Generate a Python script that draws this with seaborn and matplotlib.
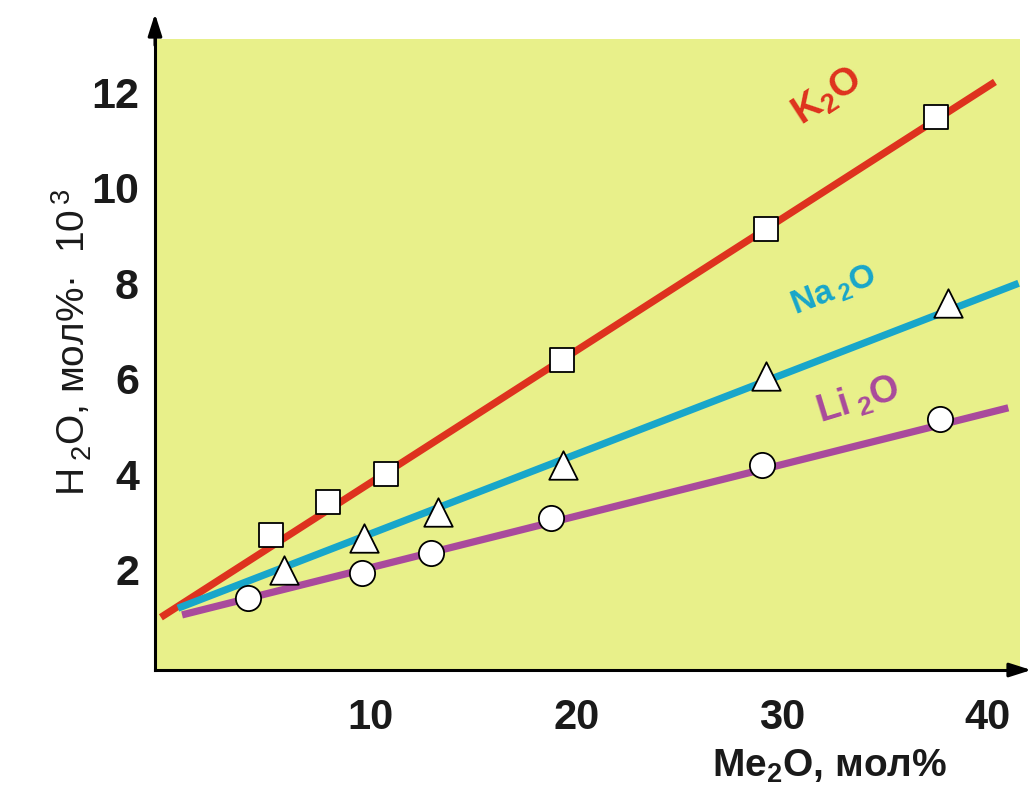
import matplotlib
matplotlib.use("Agg")
import matplotlib.pyplot as plt
import seaborn as sns
import pandas as pd

# Measured points (Me2O mol%, H2O mol% x 10^3)
k2o_x = [5.15, 7.92, 10.74, 19.3, 29.2, 37.5]
k2o_y = [2.73, 3.42, 4.0, 6.39, 9.14, 11.49]
na2o_x = [5.78, 9.67, 13.27, 19.35, 29.2, 38.06]
na2o_y = [1.99, 2.66, 3.21, 4.19, 6.06, 7.59]
li2o_x = [4.03, 9.58, 12.93, 18.77, 29.02, 37.68]
li2o_y = [1.40, 1.93, 2.35, 3.08, 4.19, 5.16]

# Fitted straight lines (end points)
k2o_fit_x = [-0.2, 40.35]
k2o_fit_y = [1.0, 12.22]
na2o_fit_x = [0.63, 41.5]
na2o_fit_y = [1.19, 8.0]
li2o_fit_x = [0.83, 41.0]
li2o_fit_y = [1.05, 5.39]

x_ticks = [10, 20, 30, 40]
y_ticks = [2, 4, 6, 8, 10, 12]

RED = "#de321e"
CYAN = "#18a6ca"
PURPLE = "#a94a9c"
BG = "#e8f08a"
INK = "#1a1a1a"

sns.set_theme(style="white")
plt.rcParams["font.family"] = ["Liberation Sans", "DejaVu Sans"]
plt.rcParams["font.weight"] = "bold"
plt.rcParams["mathtext.default"] = "regular"

fig = plt.figure(figsize=(10.34, 7.89), dpi=100)
ax = fig.add_axes([0.1499, 0.1508, 0.8366, 0.7998])
ax.set_facecolor(BG)

fits = pd.DataFrame({
    "x": k2o_fit_x + na2o_fit_x + li2o_fit_x,
    "y": k2o_fit_y + na2o_fit_y + li2o_fit_y,
    "s": ["K2O"] * 2 + ["Na2O"] * 2 + ["Li2O"] * 2,
})
sns.lineplot(data=fits, x="x", y="y", hue="s", palette={"K2O": RED, "Na2O": CYAN, "Li2O": PURPLE},
             linewidth=5.2, legend=False, ax=ax, solid_capstyle="butt", sort=False)

sns.scatterplot(x=k2o_x, y=k2o_y, marker="s", s=300, color="white", edgecolor="black",
                linewidth=1.3, ax=ax, zorder=5)
sns.scatterplot(x=na2o_x, y=na2o_y, marker="^", s=420, color="white", edgecolor="black",
                linewidth=1.3, ax=ax, zorder=5)
sns.scatterplot(x=li2o_x, y=li2o_y, marker="o", s=330, color="white", edgecolor="black",
                linewidth=1.3, ax=ax, zorder=5)

ax.set_xlim(-0.486, 41.57)
ax.set_ylim(-0.105, 13.12)
ax.set_xticks(x_ticks)
ax.set_yticks(y_ticks)
ax.set_xticklabels([str(v) for v in x_ticks], fontsize=30, fontweight="bold")
ax.set_yticklabels([str(v) for v in y_ticks], fontsize=31, fontweight="bold")
ax.tick_params(axis="y", direction="in", length=23, width=1.2, color="black", pad=11.5, labelcolor=INK)
ax.tick_params(axis="x", direction="in", length=18, width=1.2, color="black", pad=20, labelcolor=INK)

for side in ("top", "right"):
    ax.spines[side].set_visible(False)
for side in ("left", "bottom"):
    ax.spines[side].set_color("black")
    ax.spines[side].set_linewidth(2.2)

# Axis arrows
ax.annotate("", xy=(0, 1.04), xytext=(0, 0.99), xycoords="axes fraction",
            arrowprops=dict(arrowstyle="-|>,head_length=1.1,head_width=0.35", color="black", lw=2.2,
                            shrinkA=0, shrinkB=0))
ax.annotate("", xy=(1.013, 0), xytext=(0.99, 0), xycoords="axes fraction",
            arrowprops=dict(arrowstyle="-|>,head_length=1.1,head_width=0.35", color="black", lw=2.2,
                            shrinkA=0, shrinkB=0))

ax.set_xlabel("")
ax.set_ylabel("")
fig.text(830 / 1034, 1 - 766 / 789, r"Me$_2$O, мол%", fontsize=28, fontweight="bold",
         ha="center", va="center", color=INK)
fig.text(72 / 1034, 1 - 342 / 789, r"H$\,{}_2$O, мол%·  10$^{\,3}$", fontsize=28, fontweight="normal",
         ha="center", va="center", rotation=90, color=INK)

# Series labels
ax.text(32.2, 11.9, r"K$_2$O", color=RED, fontsize=28, fontweight="bold", rotation=33,
        ha="center", va="center")
ax.text(32.5, 7.84, r"Na$\,{}_2$O", color=CYAN, fontsize=24, fontweight="bold", rotation=21,
        ha="center", va="center")
ax.text(33.7, 5.55, r"Li$\,{}_2$O", color=PURPLE, fontsize=27, fontweight="bold", rotation=17,
        ha="center", va="center")

fig.savefig("out.png", dpi=100)
